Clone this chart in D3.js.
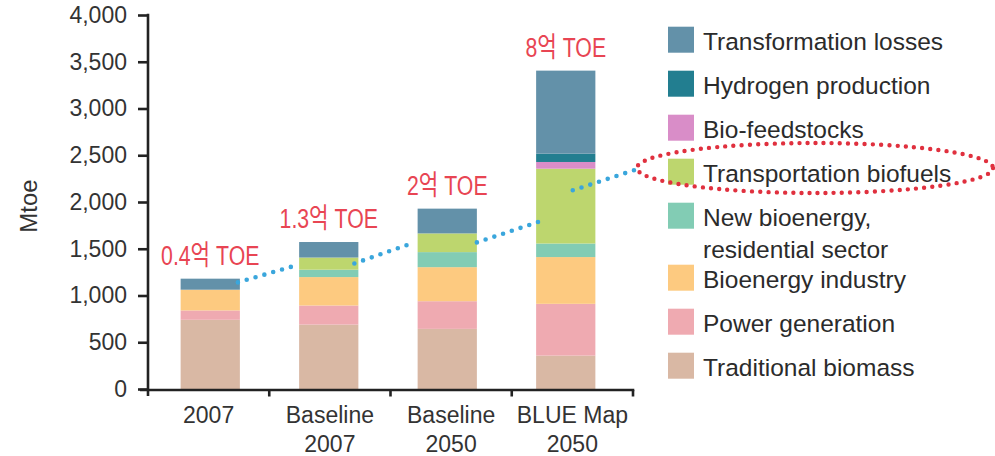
<!DOCTYPE html>
<html>
<head>
<meta charset="utf-8">
<script src="https://cdn.jsdelivr.net/npm/d3@7"></script>
<style>
  html, body { margin: 0; padding: 0; background: #ffffff; }
  svg { display: block; font-family: "Liberation Sans", Arial, "Noto Sans CJK KR", sans-serif; }
</style>
</head>
<body>
<svg id="chart" width="995" height="456"></svg>
<script>
// Bioenergy use by sector (Mtoe)
const categories = ["2007", "Baseline 2007", "Baseline 2050", "BLUE Map 2050"];
const categoryLines = [["2007"], ["Baseline", "2007"], ["Baseline", "2050"], ["BLUE Map", "2050"]];

const traditionalBiomass   = [740, 689, 643, 357];
const powerGeneration      = [100, 204, 296, 554];
const bioenergyIndustry    = [222, 304, 364, 500];
const newBioenergyResident = [0, 79, 161, 145];
const transportBiofuels    = [0, 130, 200, 800];
const bioFeedstocks        = [0, 0, 0, 72];
const hydrogenProduction   = [0, 0, 0, 89];
const transformationLosses = [118, 166, 265, 888];

// stacking order, bottom to top
const seriesKeys = ["trad", "power", "industry", "resid", "transport", "feed", "hydrogen", "losses"];
const seriesValues = {
  trad: traditionalBiomass, power: powerGeneration, industry: bioenergyIndustry,
  resid: newBioenergyResident, transport: transportBiofuels, feed: bioFeedstocks,
  hydrogen: hydrogenProduction, losses: transformationLosses
};
const seriesColors = {
  trad: "#d9b8a4", power: "#efaab1", industry: "#fdca80", resid: "#82ccb4",
  transport: "#bdd66e", feed: "#d98dc8", hydrogen: "#227e90", losses: "#6391a9"
};

// legend, top to bottom
const legendKeys = ["losses", "hydrogen", "feed", "transport", "resid", "industry", "power", "trad"];
const legendLabels = {
  losses: ["Transformation losses"], hydrogen: ["Hydrogen production"], feed: ["Bio-feedstocks"],
  transport: ["Transportation biofuels"], resid: ["New bioenergy,", "residential sector"],
  industry: ["Bioenergy industry"], power: ["Power generation"], trad: ["Traditional biomass"]
};

// biofuel annotations over each bar
const biofuelNotes = ["0.4억 TOE", "1.3억 TOE", "2억 TOE", "8억 TOE"];

// dotted guide through the biofuel segments: [start, end] values per leg
const guideValues = [[1140, 1332], [1343, 1557], [1568, 1793], [2125, 2361]];

const yTicks = [0, 500, 1000, 1500, 2000, 2500, 3000, 3500, 4000];

const svg = d3.select("#chart");

const y = d3.scaleLinear().domain([0, 4000]).range([389, 15]);
const xAxisBand = d3.scaleBand().domain(categories).range([148, 633]);
const xBar = d3.scaleBand().domain(categories).range([151, 625]).paddingInner(0.5).paddingOuter(0.25);

// rows for d3.stack
const rows = categories.map((c, i) => {
  const r = { category: c };
  seriesKeys.forEach(k => r[k] = seriesValues[k][i]);
  return r;
});
const stacked = d3.stack().keys(seriesKeys)(rows);

// bars
svg.append("g").selectAll("g")
  .data(stacked)
  .join("g")
  .attr("fill", d => seriesColors[d.key])
  .selectAll("rect")
  .data(d => d.filter(s => s[1] - s[0] > 0))
  .join("rect")
  .attr("x", d => xBar(d.data.category))
  .attr("width", xBar.bandwidth())
  .attr("y", d => y(d[1]))
  .attr("height", d => y(d[0]) - y(d[1]));

// y axis
const yAxis = svg.append("g")
  .attr("transform", "translate(148,0)")
  .call(d3.axisLeft(y).tickValues(yTicks).tickFormat(d3.format(",")).tickSize(10).tickPadding(11).tickSizeOuter(0));
yAxis.select(".domain").remove();
yAxis.selectAll(".tick line").attr("stroke", "#222").attr("stroke-width", 2.6);
yAxis.selectAll(".tick text")
  .attr("fill", "#333").attr("font-size", 23).attr("font-family", null);
svg.append("line")
  .attr("x1", 148).attr("x2", 148).attr("y1", y(4000) - 1.3).attr("y2", 396)
  .attr("stroke", "#222").attr("stroke-width", 2.6);

// x axis with ticks on the category boundaries
const xBaseY = 390;
svg.append("line")
  .attr("x1", 140).attr("x2", xAxisBand.range()[1] + 1.3).attr("y1", xBaseY).attr("y2", xBaseY)
  .attr("stroke", "#222").attr("stroke-width", 2.6);
svg.append("g").selectAll("line")
  .data(categories.slice(1).concat([null]))
  .join("line")
  .attr("x1", d => d === null ? xAxisBand.range()[1] : xAxisBand(d))
  .attr("x2", d => d === null ? xAxisBand.range()[1] : xAxisBand(d))
  .attr("y1", xBaseY).attr("y2", xBaseY + 6.5)
  .attr("stroke", "#222").attr("stroke-width", 2.6);

const xLabels = svg.append("g").selectAll("text")
  .data(categories)
  .join("text")
  .attr("text-anchor", "middle")
  .attr("fill", "#333")
  .attr("font-size", 23);
xLabels.selectAll("tspan")
  .data((d, i) => categoryLines[i].map(t => ({ t, c: d })))
  .join("tspan")
  .attr("x", d => xAxisBand(d.c) + xAxisBand.bandwidth() / 2)
  .attr("y", (d, j) => 423 + j * 29)
  .text(d => d.t);

// y axis title
svg.append("text")
  .attr("transform", "translate(37,206) rotate(-90)")
  .attr("text-anchor", "middle")
  .attr("fill", "#333")
  .attr("font-size", 24)
  .text("Mtoe");

// totals for annotation placement
const totals = rows.map(r => d3.sum(seriesKeys, k => r[k]));
svg.append("g").selectAll("text")
  .data(biofuelNotes)
  .join("text")
  .attr("transform", (d, i) => `translate(${xBar(categories[i]) + xBar.bandwidth() / 2},${y(totals[i]) - 14}) scale(0.76,1)`)
  .attr("text-anchor", "middle")
  .attr("fill", "#e84553")
  .attr("font-size", 28)
  .text(d => d);

// legend
const legend = svg.append("g");
let rowTop = 26.7;
legendKeys.forEach(k => {
  legend.append("rect")
    .attr("x", 668).attr("y", rowTop).attr("width", 26).attr("height", 26)
    .attr("fill", seriesColors[k]);
  const t = legend.append("text").attr("fill", "#2b2b2b").attr("font-size", 24.5);
  legendLabels[k].forEach((line, j) => {
    t.append("tspan").attr("x", 703).attr("y", rowTop + 23 + j * 32).text(line);
  });
  rowTop += 44 + (legendLabels[k].length - 1) * 18;
});

// highlight ring around the biofuels legend entry
const ring = { cx: 815, cy: 168, rx: 178, ry: 25 };
svg.append("ellipse")
  .attr("cx", ring.cx).attr("cy", ring.cy).attr("rx", ring.rx).attr("ry", ring.ry)
  .attr("fill", "none")
  .attr("stroke", "#e0303e")
  .attr("stroke-width", 4.4)
  .attr("stroke-linecap", "round")
  .attr("stroke-dasharray", "0 8.2");

// dotted guide linking biofuel segments to the legend
const barLeft = c => xBar(c);
const barRight = c => xBar(c) + xBar.bandwidth();
const guideX = [
  [barRight(categories[0]) - 2, barLeft(categories[1])],
  [barRight(categories[1]) - 4, barLeft(categories[2]) - 6],
  [barRight(categories[2]), barLeft(categories[3]) + 4],
  [xBar(categories[3]) + xBar.bandwidth() / 2 + 7, ring.cx - ring.rx + 3]
];
svg.append("g").selectAll("line")
  .data(guideValues)
  .join("line")
  .attr("x1", (d, i) => guideX[i][0])
  .attr("x2", (d, i) => guideX[i][1])
  .attr("y1", d => y(d[0]))
  .attr("y2", d => y(d[1]))
  .attr("stroke", "#3aa6dc")
  .attr("stroke-width", 4.6)
  .attr("stroke-linecap", "round")
  .attr("stroke-dasharray", "0 9.2");
</script>
</body>
</html>
